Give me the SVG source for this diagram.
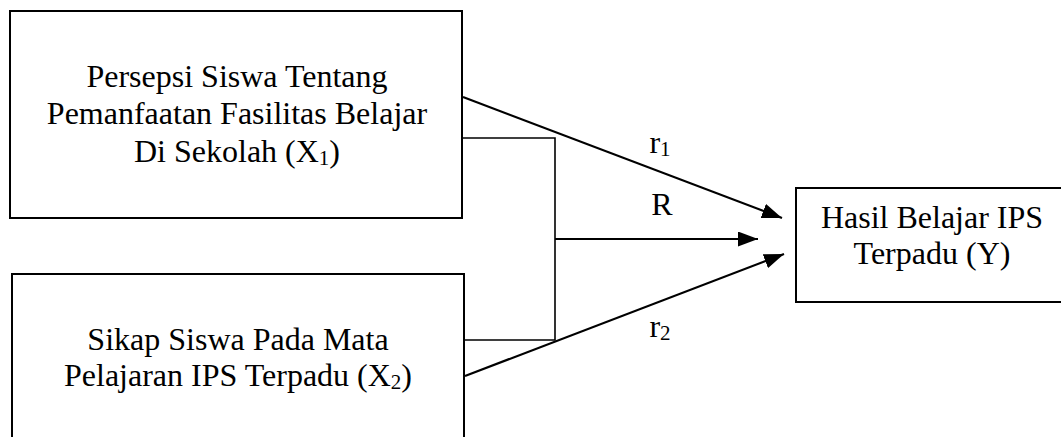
<svg xmlns="http://www.w3.org/2000/svg" width="1061" height="437" viewBox="0 0 1061 437">
<defs>
<style>
.box{fill:#fff;stroke:#000;stroke-width:2}
.t{font-family:"Liberation Serif","Times New Roman",serif;font-size:32px;fill:#000;text-anchor:middle}
.sub{font-size:21px}
.ln{fill:none;stroke:#000;stroke-width:1.6}
.ar{fill:none;stroke:#000;stroke-width:2.2}
</style>
<marker id="ah" viewBox="0 0 10 10" refX="10" refY="5" markerWidth="20" markerHeight="15" markerUnits="userSpaceOnUse" orient="auto" preserveAspectRatio="none">
<path d="M0,0 L10,5 L0,10 Z" fill="#000"/>
</marker>
</defs>
<rect width="1061" height="437" fill="#fff"/>
<g id="x1">
<rect class="box" x="10" y="11" width="452" height="207"/>
<text class="t" x="237" y="87">Persepsi Siswa Tentang</text>
<text class="t" x="237" y="124">Pemanfaatan Fasilitas Belajar</text>
<text class="t" x="237" y="162">Di Sekolah (X<tspan class="sub" dy="3">1</tspan><tspan dy="-3">)</tspan></text>
</g>
<g id="x2">
<rect class="box" x="12" y="274" width="452" height="180"/>
<text class="t" x="238" y="350">Sikap Siswa Pada Mata</text>
<text class="t" x="238" y="386">Pelajaran IPS Terpadu (X<tspan class="sub" dy="3">2</tspan><tspan dy="-3">)</tspan></text>
</g>
<g id="y">
<rect class="box" x="796" y="188" width="280" height="114"/>
<text class="t" x="932" y="228">Hasil Belajar IPS</text>
<text class="t" x="932" y="264">Terpadu (Y)</text>
</g>
<g id="connectors">
<polyline class="ln" points="463,138 555,138 555,340 465,340"/>
<line class="ar" x1="463" y1="97" x2="782" y2="218" marker-end="url(#ah)"/>
<line class="ar" x1="555" y1="239" x2="758" y2="239" marker-end="url(#ah)"/>
<line class="ar" x1="465" y1="376" x2="784" y2="254" marker-end="url(#ah)"/>
<text class="t" x="660" y="153">r<tspan class="sub" dy="3">1</tspan></text>
<text class="t" x="662" y="215">R</text>
<text class="t" x="660" y="337">r<tspan class="sub" dy="3">2</tspan></text>
</g>
</svg>
